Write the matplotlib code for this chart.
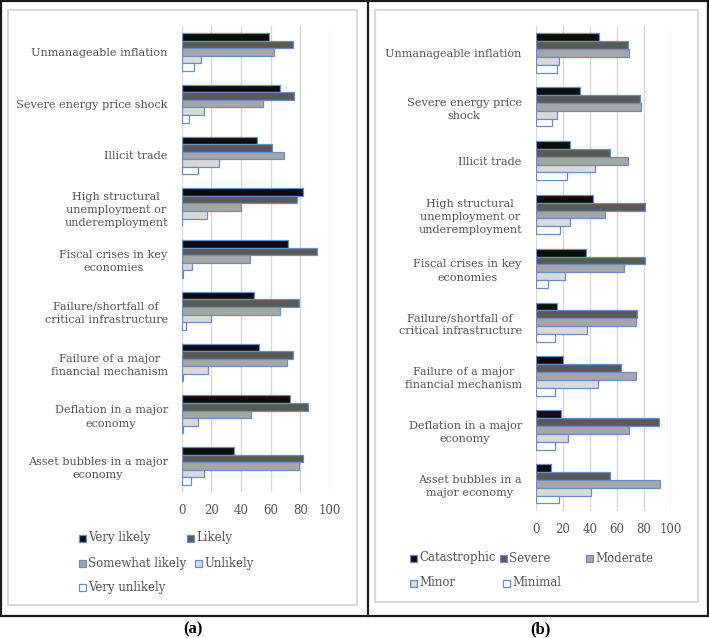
import matplotlib
matplotlib.use("Agg")
import matplotlib.pyplot as plt
from matplotlib.patches import Rectangle
from matplotlib.lines import Line2D
import numpy as np

# ---------------- data ----------------
categories_a = ["Unmanageable inflation", "Severe energy price shock", "Illicit trade",
                "High structural\nunemployment or\nunderemployment",
                "Fiscal crises in key\neconomies",
                "Failure/shortfall of\ncritical infrastructure",
                "Failure of a major\nfinancial mechanism",
                "Deflation in a major\neconomy",
                "Asset bubbles in a major\neconomy"]
categories_b = ["Unmanageable inflation", "Severe energy price\nshock", "Illicit trade",
                "High structural\nunemployment or\nunderemployment",
                "Fiscal crises in key\neconomies",
                "Failure/shortfall of\ncritical infrastructure",
                "Failure of a major\nfinancial mechanism",
                "Deflation in a major\neconomy",
                "Asset bubbles in a\nmajor economy"]

series_a = ["Very likely", "Likely", "Somewhat likely", "Unlikely", "Very unlikely"]
very_likely     = [59, 66, 51, 82, 72, 49, 52, 73, 35]
likely          = [75, 76, 61, 78, 91, 79, 75, 85, 82]
somewhat_likely = [62, 55, 69, 40, 46, 66, 71, 47, 79]
unlikely        = [13, 15, 25, 17, 7, 20, 18, 11, 15]
very_unlikely   = [8, 5, 11, 0, 1, 3, 1, 1, 6]

series_b = ["Catastrophic", "Severe", "Moderate", "Minor", "Minimal"]
catastrophic = [47, 33, 25, 42, 37, 16, 20, 19, 11]
severe       = [68, 77, 55, 81, 81, 75, 63, 91, 55]
moderate     = [69, 78, 68, 51, 65, 74, 74, 69, 92]
minor        = [17, 16, 44, 25, 22, 38, 46, 24, 41]
minimal      = [16, 12, 23, 18, 9, 14, 14, 14, 17]

x_ticks = [0, 20, 40, 60, 80, 100]

# ---------------- style ----------------
fills = ["#0d0d0d", "#595959", "#a6a6a6", "#d9d9d9", "#ffffff"]
edge = "#6a8cc8"
txt = "#555555"
grid_c = "#d9d9d9"
FONT = "DejaVu Serif"
FS = 8.1

W, H = 709, 638
fig = plt.figure(figsize=(W / 100, H / 100), dpi=100)


def px_axes(x0, y0, x1, y1):
    return fig.add_axes([x0 / W, 1 - y1 / H, (x1 - x0) / W, (y1 - y0) / H])


def draw_panel(ax, cats, data):
    n = len(cats)
    bh = 0.146
    for k, vals in enumerate(data):
        y = np.arange(n) + 0.5 - 2 * bh + k * bh
        ax.barh(y, vals, height=bh, color=fills[k], edgecolor=edge, linewidth=0.9, zorder=3)
    ax.set_ylim(n, 0)
    ax.set_xlim(0, 100)
    ax.set_xticks(x_ticks)
    ax.set_xticklabels([str(t) for t in x_ticks], fontsize=8.5, color=txt, family=FONT)
    ax.set_yticks(np.arange(n) + 0.5)
    ax.set_yticklabels(cats, fontsize=FS, color=txt, family=FONT)
    for t in ax.get_yticklabels():
        t.set_multialignment("center")
        t.set_linespacing(1.4)
    ax.tick_params(axis="both", length=0)
    ax.tick_params(axis="y", pad=10)
    ax.tick_params(axis="x", pad=9)
    ax.grid(axis="x", color=grid_c, linewidth=1, zorder=0)
    for s in ax.spines.values():
        s.set_visible(False)
    ax.set_facecolor("none")


axa = px_axes(181.7, 26, 330, 492)
draw_panel(axa, categories_a, [very_likely, likely, somewhat_likely, unlikely, very_unlikely])
axb = px_axes(535.7, 26, 671, 510.7)
draw_panel(axb, categories_b, [catastrophic, severe, moderate, minor, minimal])


def rect(x0, y0, x1, y1, **kw):
    fig.add_artist(Rectangle((x0 / W, 1 - y1 / H), (x1 - x0) / W, (y1 - y0) / H,
                             transform=fig.transFigure, fill=False, **kw))


# light grey chart borders
rect(8, 10, 357, 605, edgecolor=grid_c, linewidth=1.5, zorder=0)
rect(375, 10, 698, 602, edgecolor=grid_c, linewidth=1.5, zorder=0)
# black frame
rect(1, 1, 708, 616, edgecolor="#1a1a1a", linewidth=1.6)
fig.add_artist(Line2D([367.5 / W, 367.5 / W], [1 - 1 / H, 1 - 616 / H],
                      transform=fig.transFigure, color="#1a1a1a", linewidth=1.6))


def legend_entry(x, y, label, k):
    s = 7
    fig.add_artist(Rectangle((x / W, 1 - (y + s / 2) / H), s / W, s / H,
                             transform=fig.transFigure, facecolor=fills[k],
                             edgecolor=edge, linewidth=0.9))
    fig.text((x + s + 2) / W, 1 - y / H, label, fontsize=8.5, color=txt,
             family=FONT, va="center", ha="left")


# legend (a)
pos_a = [(79, 538), (187, 538), (79, 563), (195, 563), (79, 587)]
for k, (lab, (x, y)) in enumerate(zip(series_a, pos_a)):
    legend_entry(x, y, lab, k)
# legend (b)
pos_b = [(410, 558), (500, 558), (586, 558), (410, 583), (503, 583)]
for k, (lab, (x, y)) in enumerate(zip(series_b, pos_b)):
    legend_entry(x, y, lab, k)

fig.text(193 / W, 1 - 629 / H, "(a)", fontsize=12, fontweight="bold",
         family="Liberation Serif", ha="center", va="center", color="black")
fig.text(540 / W, 1 - 629 / H, "(b)", fontsize=12, fontweight="bold",
         family="Liberation Serif", ha="center", va="center", color="black")

fig.savefig("out.png", dpi=100, facecolor="white")
